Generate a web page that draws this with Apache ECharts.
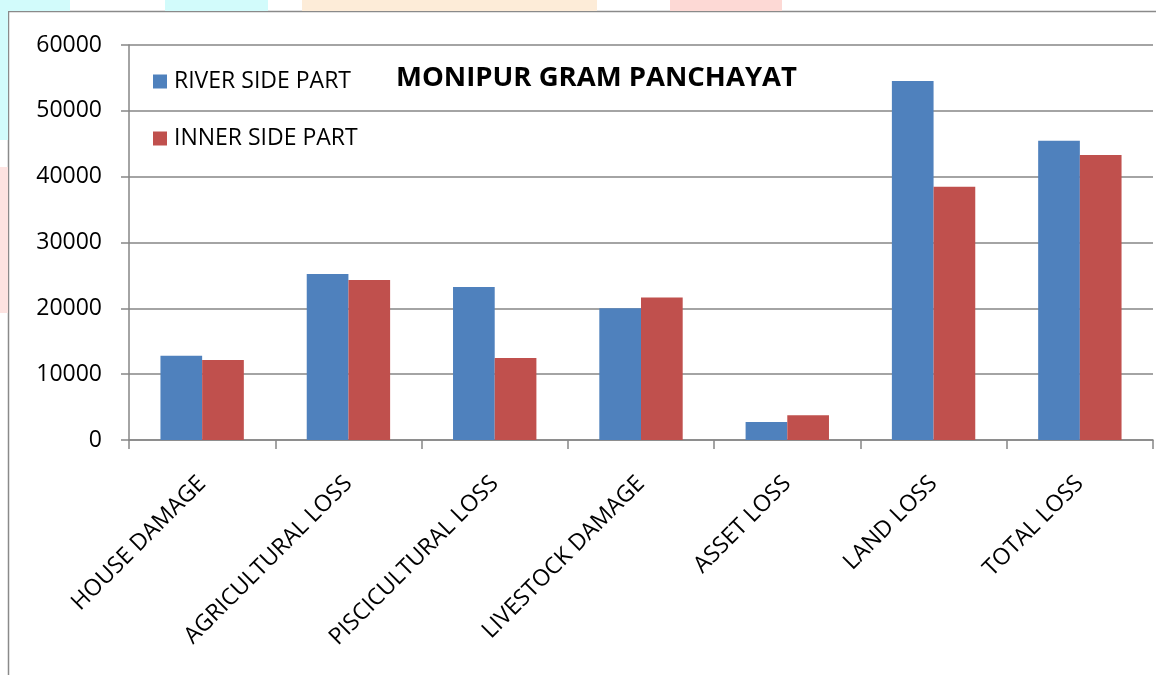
<!DOCTYPE html>
<html>
<head>
<meta charset="utf-8">
<title>MONIPUR GRAM PANCHAYAT</title>
<script src="https://cdn.jsdelivr.net/npm/echarts@6/dist/echarts.min.js"></script>
<style>
    html, body { margin: 0; padding: 0; background: #ffffff; }
    #chart { width: 1156px; height: 675px; }
</style>
</head>
<body>
<div id="chart"></div>
<script>
// 数据
const categories = ['HOUSE DAMAGE', 'AGRICULTURAL LOSS', 'PISCICULTURAL LOSS', 'LIVESTOCK DAMAGE', 'ASSET LOSS', 'LAND LOSS', 'TOTAL LOSS'];
const riverSide = [12800, 25200, 23250, 20000, 2750, 54550, 45450];
const innerSide = [12150, 24300, 12450, 21650, 3750, 38450, 43300];
const yTicks = [0, 10000, 20000, 30000, 40000, 50000, 60000];

const FONT = '"Open Sans", sans-serif';
const AXIS_GREY = '#868686';

// 图表外框与背景水印色块
const frame = [
    { type: 'rect', shape: { x: 0, y: 0, width: 70, height: 11 }, style: { fill: '#d2fbfb' }, silent: true },
    { type: 'rect', shape: { x: 165, y: 0, width: 103, height: 11 }, style: { fill: '#d2fbfb' }, silent: true },
    { type: 'rect', shape: { x: 302, y: 0, width: 295, height: 11 }, style: { fill: '#fdecd8' }, silent: true },
    { type: 'rect', shape: { x: 670, y: 0, width: 112, height: 11 }, style: { fill: '#fdd9d5' }, silent: true },
    { type: 'rect', shape: { x: 0, y: 0, width: 8, height: 140 }, style: { fill: '#d2fbfb' }, silent: true },
    { type: 'rect', shape: { x: 0, y: 167, width: 8, height: 146 }, style: { fill: '#fde3e1' }, silent: true },
    {
        type: 'rect',
        shape: { x: 8.5, y: 11.5, width: 1200, height: 700 },
        style: { fill: '#ffffff', stroke: '#8a8a8a', lineWidth: 1.5 },
        silent: true,
        z: -1
    }
];

const chart = echarts.init(document.getElementById('chart'));

chart.setOption({
    animation: false,
    backgroundColor: 'transparent',
    graphic: frame,
    title: {
        text: 'MONIPUR GRAM PANCHAYAT',
        left: 396,
        top: 64,
        padding: 0,
        textStyle: {
            fontFamily: FONT,
            fontWeight: 'bold',
            fontSize: 27.5,
            color: '#000000'
        }
    },
    legend: {
        orient: 'vertical',
        left: 153,
        top: 70,
        padding: 0,
        itemWidth: 14,
        itemHeight: 14,
        itemGap: 34,
        icon: 'rect',
        textStyle: {
            fontFamily: FONT,
            fontSize: 23,
            color: '#000000',
            padding: [0, 0, 0, 2]
        },
        data: ['RIVER SIDE PART', 'INNER SIDE PART']
    },
    grid: {
        left: 129,
        top: 45,
        right: 3,
        bottom: 235,
        containLabel: false
    },
    xAxis: {
        type: 'category',
        data: categories,
        axisLine: { lineStyle: { color: AXIS_GREY, width: 1.5 } },
        axisTick: { show: true, length: 9, alignWithLabel: false, lineStyle: { color: AXIS_GREY, width: 1.5 } },
        axisLabel: {
            rotate: 45,
            margin: 40,
            interval: 0,
            fontFamily: FONT,
            fontSize: 23,
            color: '#000000'
        }
    },
    yAxis: {
        type: 'value',
        min: yTicks[0],
        max: yTicks[yTicks.length - 1],
        interval: yTicks[1] - yTicks[0],
        axisLine: { show: true, lineStyle: { color: AXIS_GREY, width: 1.5 } },
        axisTick: { show: true, length: 8, lineStyle: { color: AXIS_GREY, width: 1.5 } },
        splitLine: { lineStyle: { color: AXIS_GREY, width: 1.5 } },
        axisLabel: {
            margin: 27,
            fontFamily: FONT,
            fontSize: 23,
            color: '#000000',
            formatter: function (value) {
                return String(value);
            }
        }
    },
    series: [
        {
            name: 'RIVER SIDE PART',
            type: 'bar',
            data: riverSide,
            barGap: '0%',
            barCategoryGap: '43%',
            itemStyle: { color: '#4f81bd' }
        },
        {
            name: 'INNER SIDE PART',
            type: 'bar',
            data: innerSide,
            barGap: '0%',
            barCategoryGap: '43%',
            itemStyle: { color: '#c0504d' }
        }
    ]
});
</script>
</body>
</html>
